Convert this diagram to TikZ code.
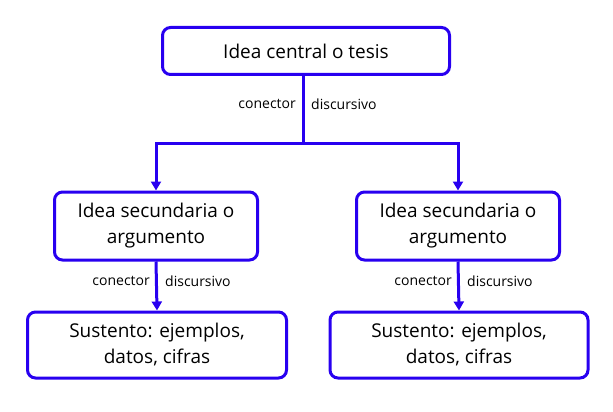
\documentclass[tikz,border=0pt]{standalone}
\usepackage{fontspec}
\setmainfont{Open Sans}
\usetikzlibrary{arrows.meta}
\definecolor{bl}{RGB}{40,0,240}
\begin{document}
\begin{tikzpicture}[x=1pt,y=-1pt,
 box/.style={draw=bl,line width=3pt,rounded corners=8pt,fill=white,align=center,font=\fontsize{19}{26}\selectfont,inner sep=0pt},
 ln/.style={draw=bl,line width=3pt},
 ar/.style={ln,-{Triangle[length=9pt,width=10pt]}},
 lab/.style={font=\fontsize{14}{16}\selectfont,inner sep=0pt}]
\useasboundingbox (0,0) rectangle (613,412);
\node[box,minimum width=287pt,minimum height=47pt] (t) at (306,51) {Idea central o tesis};
\node[box,minimum width=203pt,minimum height=68pt] (l) at (156,226) {Idea secundaria o\\argumento};
\node[box,minimum width=203pt,minimum height=68pt] (r) at (458,226) {Idea secundaria o\\argumento};
\node[box,minimum width=259pt,minimum height=66pt] (bl) at (157,345) {Sustento: ejemplos,\\datos, cifras};
\node[box,minimum width=258pt,minimum height=66pt] (br) at (459,345) {Sustento: ejemplos,\\datos, cifras};
\coordinate (j) at (303,143);
\draw[ln] (t.south -| j) -- (j);
\draw[ar] (j) -| (l.north);
\draw[ar] (j) -| (r.north);
\node[lab,anchor=east] (c1) at (296,104) {conector};
\node[lab,anchor=west] (d1) at (311,104) {discursivo};
\draw[ar] (l.south) -- (bl.north);
\draw[ar] (r.south) -- (br.north);
\node[lab,anchor=east] (c2) at (150,281) {conector};
\node[lab,anchor=west] (d2) at (165,281) {discursivo};
\node[lab,anchor=east] (c3) at (452,281) {conector};
\node[lab,anchor=west] (d3) at (467,281) {discursivo};
\end{tikzpicture}
\end{document}
